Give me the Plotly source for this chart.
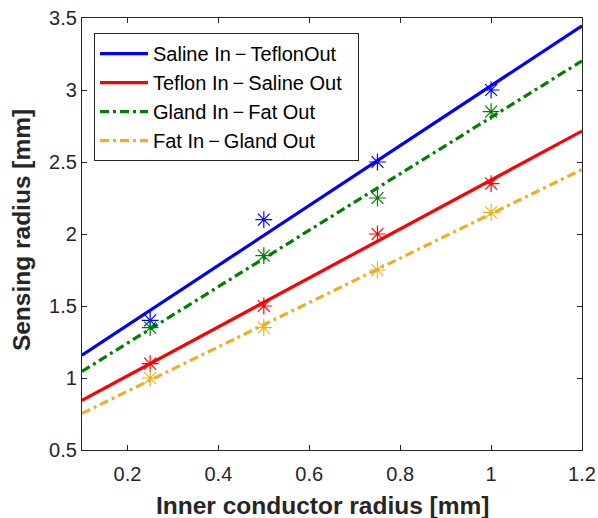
import numpy as np
import plotly.graph_objects as go

x_meas = [0.25, 0.5, 0.75, 1.0]
saline_in = [1.40, 2.10, 2.50, 3.00]
teflon_in = [1.10, 1.50, 2.00, 2.35]
gland_in = [1.35, 1.85, 2.25, 2.85]
fat_in = [1.00, 1.35, 1.75, 2.15]
x_fit_range = [0.1, 1.2]

MINUS = "\u2009\u2212\u2009"
names = ["Saline In" + MINUS + "TeflonOut", "Teflon In" + MINUS + "Saline Out",
         "Gland In" + MINUS + "Fat Out", "Fat In" + MINUS + "Gland Out"]
series = [saline_in, teflon_in, gland_in, fat_in]
colors = ["#0000FF", "#FF0000", "#008000", "#EDB120"]
dashes = ["solid", "solid", "9px,4px,3px,4px", "9px,4px,3px,4px"]

x_tick_vals = [0.2, 0.4, 0.6, 0.8, 1.0, 1.2]
x_tick_text = ["0.2", "0.4", "0.6", "0.8", "1", "1.2"]
y_tick_vals = [0.5, 1.0, 1.5, 2.0, 2.5, 3.0, 3.5]
y_tick_text = ["0.5", "1", "1.5", "2", "2.5", "3", "3.5"]
x_title = "Inner conductor radius [mm]"
y_title = "Sensing radius [mm]"

FONT = "Arial, Liberation Sans, sans-serif"
AX = "#262626"

fig = go.Figure()
xf = np.array(x_fit_range)
for name, ys, c, d in zip(names, series, colors, dashes):
    k, b = np.polyfit(x_meas, ys, 1)
    fig.add_trace(go.Scatter(x=xf, y=k * xf + b, mode="lines",
                             name=name + "\u00a0\u00a0",
                             line=dict(color=c, width=3.2, dash=d),
                             legendgroup=name))
for name, ys, c in zip(names, series, colors):
    fig.add_trace(go.Scatter(x=x_meas, y=ys, mode="markers", showlegend=False,
                             marker=dict(symbol="asterisk-open", size=14,
                                         color=c, line=dict(color=c, width=1.2))))

axis_common = dict(showline=True, linecolor=AX, linewidth=1.3, mirror="ticks",
                   ticks="inside", ticklen=5, tickcolor=AX, showgrid=False,
                   zeroline=False, automargin=False,
                   tickfont=dict(family=FONT, size=20, color=AX))

fig.update_xaxes(range=[0.1, 1.2], tickvals=x_tick_vals, ticktext=x_tick_text,
                 ticklabelstandoff=6, **axis_common)
fig.update_yaxes(range=[0.5, 3.5], tickvals=y_tick_vals, ticktext=y_tick_text,
                 **axis_common)

fig.add_annotation(text="<b>" + x_title + "</b>", xref="paper", yref="paper",
                   x=0.481, y=-0.1296, xanchor="center", yanchor="middle",
                   showarrow=False, font=dict(family=FONT, size=24.5, color=AX))
fig.add_annotation(text="<b>" + y_title + "</b>", xref="paper", yref="paper",
                   x=-0.122, y=0.509, xanchor="center", yanchor="middle",
                   textangle=-90, showarrow=False,
                   font=dict(family=FONT, size=24.5, color=AX))

fig.update_layout(
    width=598, height=518,
    margin=dict(l=82, r=16, t=18, b=68),
    paper_bgcolor="white", plot_bgcolor="white",
    showlegend=True,
    legend=dict(x=0.024, y=0.965, xanchor="left", yanchor="top",
                bgcolor="white", bordercolor=AX, borderwidth=1,
                font=dict(family=FONT, size=20, color="black"),
                itemwidth=48, tracegroupgap=0),
)

fig.write_html("out.html")
